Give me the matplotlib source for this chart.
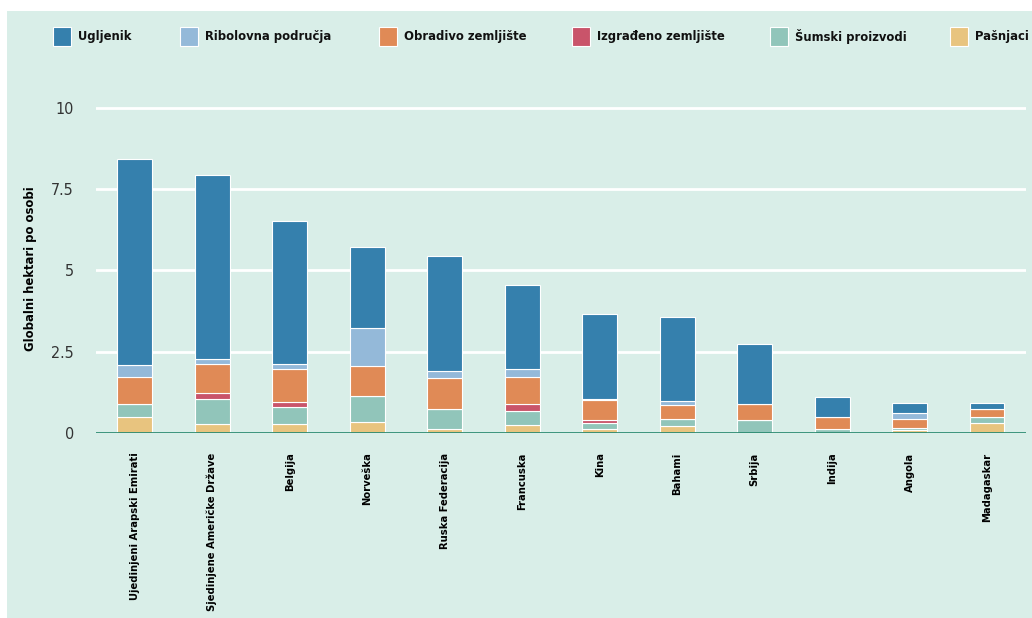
import numpy as np
import matplotlib.pyplot as plt
from matplotlib.patches import Rectangle

# Countries (x axis) and footprint components, global hectares per person
countries = ['Ujedinjeni Arapski Emirati', 'Sjedinjene Američke Države', 'Belgija',
             'Norveška', 'Ruska Federacija', 'Francuska', 'Kina', 'Bahami',
             'Srbija', 'Indija', 'Angola', 'Madagaskar']

pasnjaci = [0.48, 0.28, 0.28, 0.33, 0.12, 0.25, 0.12, 0.22, 0.00, 0.00, 0.10, 0.30]
sumski = [0.41, 0.78, 0.51, 0.82, 0.62, 0.43, 0.18, 0.20, 0.41, 0.13, 0.04, 0.20]
izgradeno = [0.00, 0.16, 0.16, 0.00, 0.00, 0.21, 0.09, 0.00, 0.00, 0.00, 0.00, 0.00]
obradivo = [0.84, 0.90, 1.02, 0.91, 0.94, 0.84, 0.63, 0.44, 0.47, 0.35, 0.28, 0.23]
ribolov = [0.35, 0.15, 0.15, 1.16, 0.24, 0.23, 0.03, 0.11, 0.00, 0.00, 0.18, 0.00]
ugljenik = [6.34, 5.66, 4.41, 2.49, 3.51, 2.58, 2.62, 2.59, 1.87, 0.64, 0.32, 0.19]

series = [
    ('Pašnjaci', pasnjaci, '#e8c47f'),
    ('Šumski proizvodi', sumski, '#91c5ba'),
    ('Izgrađeno zemljište', izgradeno, '#c9546a'),
    ('Obradivo zemljište', obradivo, '#e08a56'),
    ('Ribolovna područja', ribolov, '#94b9d9'),
    ('Ugljenik', ugljenik, '#3580ad'),
]
legend_order = ['Ugljenik', 'Ribolovna područja', 'Obradivo zemljište',
                'Izgrađeno zemljište', 'Šumski proizvodi', 'Pašnjaci']
colors = {name: col for name, _, col in series}

plt.rcParams['font.family'] = ['DejaVu Sans']
plt.rcParams['font.stretch'] = 'condensed'

W, H = 1032, 618
bg = '#d9eee8'
fig = plt.figure(figsize=(W / 100, H / 100), dpi=100, facecolor='white')
fig.patches.append(Rectangle((7 / W, 0), 1 - 7 / W, 1 - 11 / H,
                             transform=fig.transFigure, facecolor=bg,
                             edgecolor='none', zorder=-10))

ax = fig.add_axes([0.093, 0.2994, 0.901, 0.5786])
ax.patch.set_alpha(0)

x = np.arange(len(countries))
bottom = np.zeros(len(countries))
for name, vals, col in series:
    vals = np.array(vals)
    ax.bar(x, vals, 0.45, bottom=bottom, color=col, edgecolor='white',
           linewidth=0.8, label=name, zorder=3)
    bottom += vals

ax.set_xlim(-0.5, 11.5)
ax.set_ylim(0, 11)
ax.set_yticks([0, 2.5, 5, 7.5, 10])
ax.set_yticklabels(['0', '2.5', '5', '7.5', '10'])
ax.yaxis.grid(True, color='white', linewidth=2, zorder=0)
ax.set_axisbelow(True)
ax.axhline(0, color='#2a8a70', linewidth=2, zorder=4)
for s in ax.spines.values():
    s.set_visible(False)

ax.tick_params(axis='y', length=0, pad=16, labelsize=11.5, labelcolor='#333333')
ax.tick_params(axis='x', length=0, pad=14)
ax.set_xticks(x)
ax.set_xticklabels(countries, rotation=90, fontsize=8, fontweight='bold',
                   va='top', ha='center')
ax.set_ylabel('Globalni hektari po osobi', fontsize=9.3, fontweight='bold')
ax.yaxis.set_label_coords(-0.0634, 0.46)

# legend drawn by hand so the entries sit where the reference has them
leg_x = [53, 180, 379, 572, 770, 950]
for name, lx in zip(legend_order, leg_x):
    fig.patches.append(Rectangle((lx / W, 1 - 46 / H), 18 / W, 19 / H,
                                 transform=fig.transFigure,
                                 facecolor=colors[name], edgecolor='white',
                                 linewidth=0.8))
    fig.text((lx + 25) / W, 1 - 36.5 / H, name, fontsize=9.3,
             fontweight='bold', va='center', ha='left', color='#111111')

fig.savefig('out.png', dpi=100, facecolor=fig.get_facecolor())
